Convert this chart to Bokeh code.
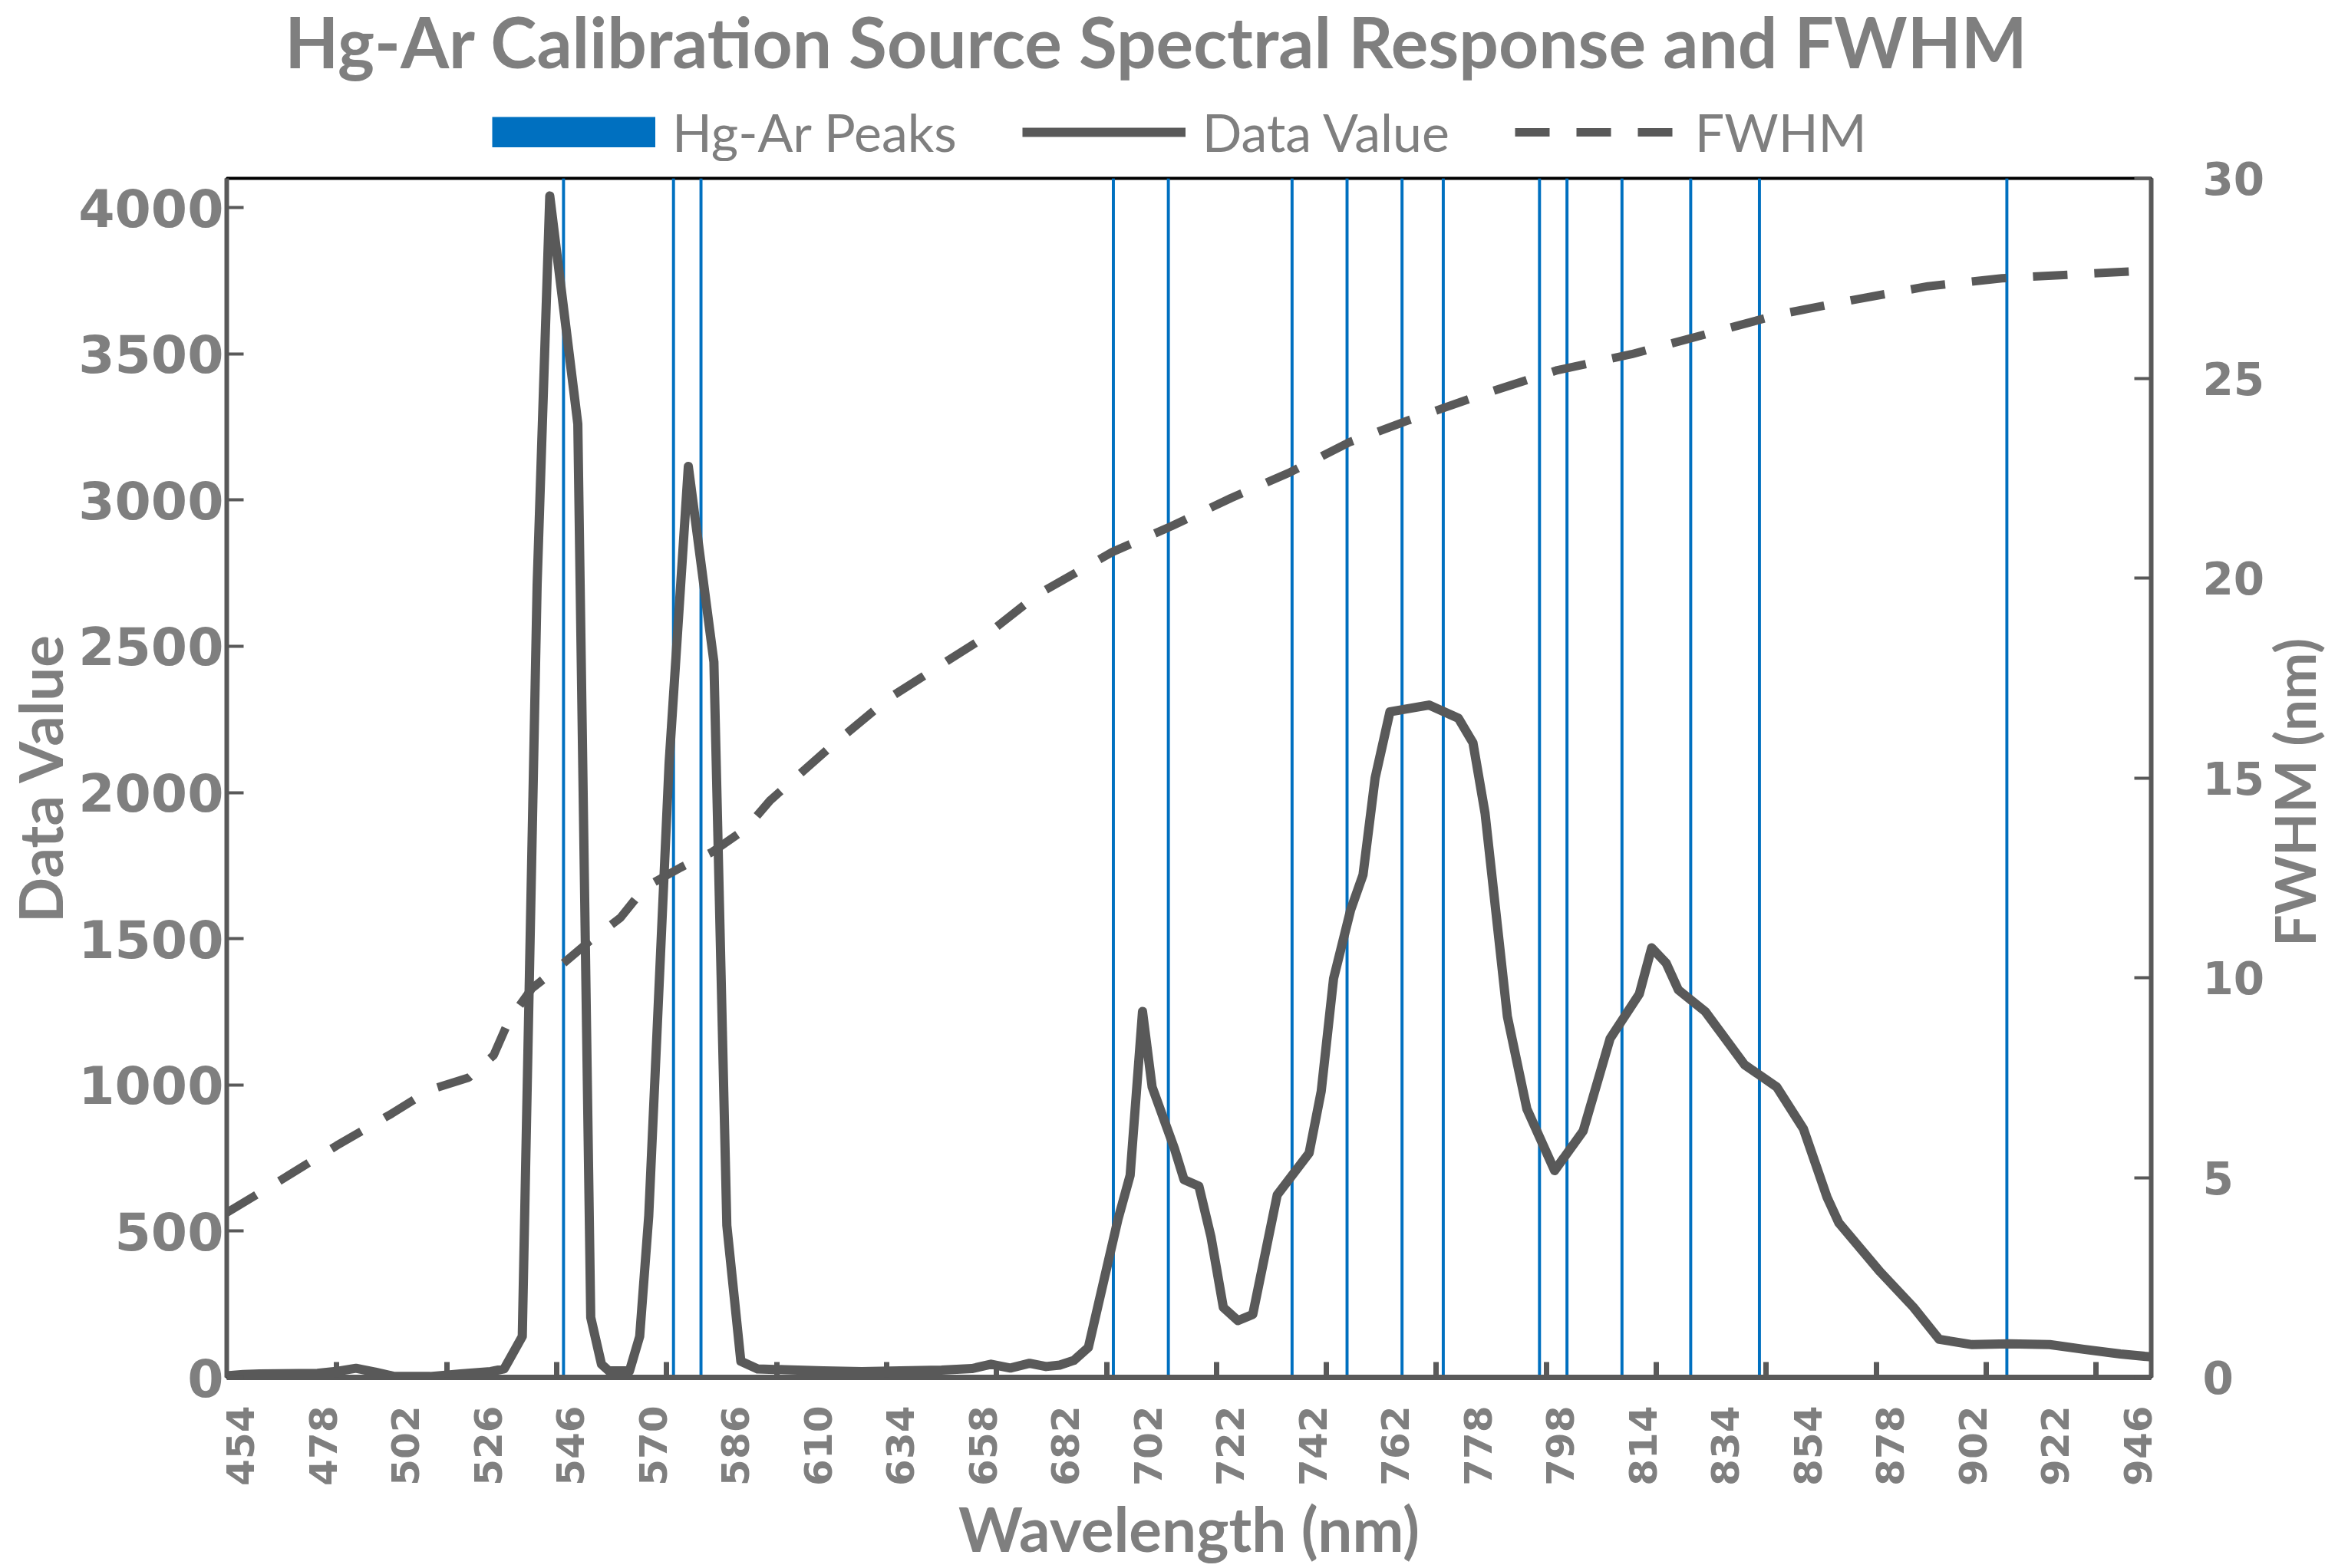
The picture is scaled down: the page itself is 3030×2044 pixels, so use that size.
import math
from bokeh.plotting import figure
from bokeh.layouts import gridplot
from bokeh.models import (Range1d, LinearAxis, FixedTicker, SingleIntervalTicker,
                          Legend, LegendItem)
from bokeh.core.properties import value
from bokeh.embed import file_html
from bokeh.resources import INLINE

# ---------------- data (x in category-index units, 70 categories) ----------------
x_tick_labels = ["454", "478", "502", "526", "546", "570", "586", "610", "634", "658",
                 "682", "702", "722", "742", "762", "778", "798", "814", "834", "854",
                 "878", "902", "922", "946"]

dv_pos = [-0.5, 0.1, 0.7, 2.8, 3.6, 4.2, 4.9, 5.6, 6.9, 8.0, 9.1, 9.59, 10.25, 10.79,
          11.25, 12.27, 12.74, 13.13, 13.4, 14.15, 14.52, 14.85, 15.59, 16.29, 17.22,
          17.69, 18.2, 18.81, 19.8, 21.2, 22.6, 24.0, 25.5, 26.6, 27.3, 28.0, 28.7,
          29.3, 29.8, 30.31, 30.84, 31.92, 32.36, 32.81, 33.16, 33.97, 34.32, 34.86,
          35.3, 35.75, 36.28, 36.82, 37.71, 38.87, 39.31, 39.76, 40.38, 40.83, 41.27,
          41.81, 43.23, 44.3, 44.83, 45.27, 46.08, 46.79, 47.8, 48.84, 49.82, 50.88,
          51.33, 51.86, 52.3, 53.28, 54.71, 55.88, 56.85, 57.71, 58.14, 59.65, 60.85,
          61.79, 62.99, 64.33, 65.81, 67.04, 68.38, 69.5]
dv_val = [5, 10, 12, 14, 22, 31, 18, 3, 3, 12, 20, 29, 140, 2710,
          4040, 3260, 205, 45, 22, 22, 140, 552, 2100, 3115, 2446,
          520, 55, 29, 26, 22, 20, 22, 25, 30, 45, 32, 48,
          37, 42, 58, 102, 541, 691, 1251, 993, 783, 676, 654,
          481, 239, 194, 215, 624, 767, 978, 1364, 1598, 1718, 2049,
          2276, 2299, 2254, 2170, 1929, 1235, 918, 707, 843, 1159, 1311,
          1469, 1416, 1325, 1251, 1069, 993, 850, 616, 528, 360, 240,
          130, 112, 115, 112, 96, 80, 70]

fwhm_pos = [-0.5, 1.5, 3.5, 5.5, 6.9, 8.3, 9.21, 9.77, 10.6, 11.64, 12.67, 13.82, 14.71,
            16.02, 17.17, 18.4, 19.26, 19.73, 21.5, 23.6, 26.86, 29.02, 31.71, 33.87,
            36.03, 38.19, 40.34, 42.5, 45.2, 47.9, 50.6, 53.3, 56.0, 58.68, 61.38,
            64.07, 66.77, 69.5]
fwhm_val = [4.12, 4.95, 5.8, 6.6, 7.2, 7.5, 8.06, 8.94, 9.73, 10.3, 10.9, 11.5, 12.26,
            12.76, 13.15, 13.74, 14.43, 14.72, 15.8, 17.0, 18.43, 19.6, 20.65, 21.3,
            22.0, 22.65, 23.4, 23.95, 24.6, 25.2, 25.6, 26.1, 26.6, 26.96, 27.3,
            27.5, 27.6, 27.7]

peak_pos = [11.75, 15.75, 16.75, 31.75, 33.75, 38.25, 40.25, 42.25, 43.75, 47.25,
            48.25, 50.25, 52.75, 55.25, 64.25]
peak_val = [30, 30, 30, 30, 30, 30, 30, 30, 30, 30, 30, 30, 30, 30, 30]

TITLE = "Hg-Ar Calibration Source Spectral Response and FWHM"
SERIES = ["Hg-Ar Peaks", "Data Value", "FWHM"]
X_TITLE = "Wavelength (nm)"
Y_TITLE = "Data Value"
Y2_TITLE = "FWHM (nm)"

# ---------------- styling / layout constants ----------------
TXT = "#7F7F7F"
LINE = "#595959"
BLUE = "#0070C0"
TITLE_FONT = "Lato"
TICK_FONT = "DejaVu Sans"

W_MAIN = 2955           # main chart canvas width
W_SIDE = 3030 - W_MAIN  # strip to the right holding the right-axis title
H_HEAD = 210            # header strip holding title + legend
H_MAIN = 2044 - H_HEAD
FRAME_L, FRAME_R, FRAME_T, FRAME_B = 295, 2803, 232, 1795

# ---------- header: title + legend ----------
head = figure(width=W_MAIN, height=H_HEAD, x_range=Range1d(FRAME_L, FRAME_R),
              y_range=Range1d(0, H_HEAD), output_backend="svg", toolbar_location=None,
              min_border=0, x_axis_location=None, y_axis_location=None, title=None)
head.outline_line_color = None
head.xgrid.visible = False
head.ygrid.visible = False
head.background_fill_color = "white"
head.border_fill_color = "white"
head.text(x=[1507], y=[H_HEAD - 53], text=[TITLE], text_align="center",
          text_baseline="middle", text_font=value(TITLE_FONT), text_font_style="bold",
          text_font_size="91px", text_color=TXT)

# legend proxies: the real series mapped onto an out-of-view range (only their
# legend swatches show up in the header)
head.extra_y_ranges = {"proxy": Range1d(1e6, 2e6)}
h_peaks = head.line(peak_pos, peak_val, y_range_name="proxy", line_width=40,
                    line_color=BLUE, line_cap="butt")
h_dv = head.line(dv_pos, dv_val, y_range_name="proxy", line_width=12, line_color=LINE)
h_fw = head.line(fwhm_pos, fwhm_val, y_range_name="proxy", line_width=11,
                 line_color=LINE, line_dash="45 35")
legend = Legend(items=[LegendItem(label=SERIES[0], renderers=[h_peaks]),
                       LegendItem(label=SERIES[1], renderers=[h_dv]),
                       LegendItem(label=SERIES[2], renderers=[h_fw])],
                orientation="horizontal", location=(641 - FRAME_L, -2),
                glyph_width=213, glyph_height=40, label_standoff=22, spacing=85,
                padding=0, margin=0, border_line_color=None,
                background_fill_alpha=0,
                label_text_font=TITLE_FONT, label_text_font_size="68px",
                label_text_color=TXT)
head.add_layout(legend)

# ---------- main chart ----------
p = figure(width=W_MAIN, height=H_MAIN, title=None,
           x_range=Range1d(-0.5, 69.5), y_range=Range1d(0, 4100),
           output_backend="svg", toolbar_location=None,
           min_border_left=FRAME_L, min_border_right=W_MAIN - FRAME_R,
           min_border_top=FRAME_T - H_HEAD, min_border_bottom=2044 - FRAME_B)
p.extra_y_ranges = {"fwhm": Range1d(0, 30)}

p.background_fill_color = "white"
p.border_fill_color = "white"
p.xgrid.visible = False
p.ygrid.visible = False
p.outline_line_color = "black"
p.outline_line_width = 4

r_peaks = p.vbar(x=peak_pos, top=peak_val, width=0.11, y_range_name="fwhm",
                 fill_color=BLUE, line_color=None)
r_fwhm = p.line(fwhm_pos, fwhm_val, y_range_name="fwhm", line_width=11,
                line_color=LINE, line_dash="45 35")
r_dv = p.line(dv_pos, dv_val, line_width=12, line_color=LINE, line_join="round")

# x axis
xa = p.xaxis[0]
xa.ticker = FixedTicker(ticks=list(range(0, 70, 3)),
                        minor_ticks=[3.5 + 4 * k for k in range(17)])
xa.major_label_overrides = {i * 3: lab for i, lab in enumerate(x_tick_labels)}
xa.major_tick_in = 0
xa.major_tick_out = 0
xa.minor_tick_in = 20
xa.minor_tick_out = 0
xa.minor_tick_line_width = 7
xa.minor_tick_line_color = LINE
xa.axis_line_width = 7
xa.axis_line_color = LINE
xa.major_label_orientation = math.pi / 2
xa.major_label_standoff = 37
xa.major_label_text_font = TICK_FONT
xa.major_label_text_font_style = "bold"
xa.major_label_text_font_size = "50px"
xa.major_label_text_color = TXT
xa.axis_label = X_TITLE
xa.axis_label_text_font = TITLE_FONT
xa.axis_label_text_font_style = "bold"
xa.axis_label_text_font_size = "80px"
xa.axis_label_text_color = TXT
xa.axis_label_standoff = 4

# left axis
ya = p.yaxis[0]
ya.ticker = SingleIntervalTicker(interval=500)
ya.major_tick_in = 22
ya.major_tick_out = 0
ya.major_tick_line_width = 4
ya.major_tick_line_color = LINE
ya.minor_tick_line_color = None
ya.axis_line_width = 6
ya.axis_line_color = LINE
ya.major_label_standoff = 0
ya.major_label_text_font = TICK_FONT
ya.major_label_text_font_style = "bold"
ya.major_label_text_font_size = "68px"
ya.major_label_text_color = TXT
ya.axis_label = Y_TITLE
ya.axis_label_text_font = TITLE_FONT
ya.axis_label_text_font_style = "bold"
ya.axis_label_text_font_size = "78px"
ya.axis_label_text_color = TXT
ya.axis_label_standoff = 0

# right axis
ra = LinearAxis(y_range_name="fwhm", ticker=SingleIntervalTicker(interval=5))
ra.major_tick_in = 22
ra.major_tick_out = 0
ra.major_tick_line_width = 4
ra.major_tick_line_color = LINE
ra.minor_tick_line_color = None
ra.axis_line_width = 6
ra.axis_line_color = LINE
ra.major_label_standoff = 63
ra.major_label_text_font = TICK_FONT
ra.major_label_text_font_style = "bold"
ra.major_label_text_font_size = "58px"
ra.major_label_text_color = TXT
p.add_layout(ra, "right")

# ---------- right strip: right-axis title reading upward ----------
side = figure(width=W_SIDE, height=H_MAIN, x_range=Range1d(0, W_SIDE),
              y_range=Range1d(0, 1), output_backend="svg", toolbar_location=None,
              min_border_left=0, min_border_right=0,
              min_border_top=FRAME_T - H_HEAD, min_border_bottom=2044 - FRAME_B,
              x_axis_location=None, y_axis_location=None, title=None)
side.outline_line_color = None
side.xgrid.visible = False
side.ygrid.visible = False
side.background_fill_color = "white"
side.border_fill_color = "white"
side.text(x=[34], y=[0.488], text=[Y2_TITLE], angle=math.pi / 2,
          text_align="center", text_baseline="middle",
          text_font=value(TITLE_FONT), text_font_style="bold",
          text_font_size="73px", text_color=TXT)

grid = gridplot([[head, None], [p, side]], toolbar_location=None)
open("out.html", "w").write(file_html(grid, INLINE))
